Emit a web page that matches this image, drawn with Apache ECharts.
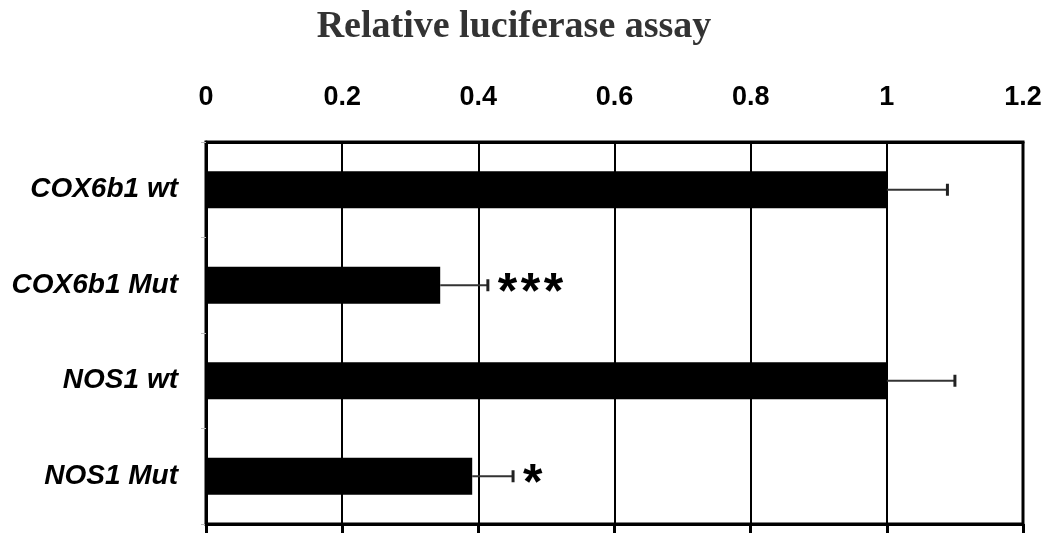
<!DOCTYPE html>
<html>
<head>
<meta charset="utf-8">
<script src="https://cdn.jsdelivr.net/npm/echarts@6/dist/echarts.min.js"></script>
<style>html,body{margin:0;padding:0;background:#fff;}#chart{width:1050px;height:543px;}</style>
</head>
<body>
<div id="chart"></div>
<script>
const categories = ['COX6b1 wt', 'COX6b1 Mut', 'NOS1 wt', 'NOS1 Mut'];
const values = [1.0, 0.344, 1.0, 0.391];
const errors = [0.089, 0.07, 0.10, 0.06];
const significance = ['', '***', '', '*'];
const xMin = 0, xMax = 1.2, xInterval = 0.2;

const errData = categories.map((c, i) => [i, values[i], values[i] + errors[i], significance[i]]);

const chart = echarts.init(document.getElementById('chart'));
chart.setOption({
  animation: false,
  backgroundColor: '#fff',
  title: {
    text: 'Relative luciferase assay',
    left: 509, top: 3, textAlign: 'center',
    textStyle: { fontFamily: 'Liberation Serif', fontWeight: 'bold', fontSize: 38, color: '#333' }
  },
  grid: { left: 206, right: 27, top: 142, bottom: 19, show: true, borderColor: '#000', borderWidth: 3, backgroundColor: 'transparent' },
  xAxis: [
    {
      type: 'value', position: 'top', min: xMin, max: xMax, interval: xInterval,
      axisLine: { show: true, lineStyle: { color: '#000', width: 3 } },
      axisTick: { show: false },
      axisLabel: { color: '#000', fontFamily: 'Arial, Liberation Sans', fontWeight: 'bold', fontSize: 27, margin: 31 },
      splitLine: { show: true, lineStyle: { color: '#000', width: 2 } }
    },
    {
      type: 'value', position: 'bottom', min: xMin, max: xMax, interval: xInterval,
      axisLine: { show: true, lineStyle: { color: '#000', width: 3 } },
      axisTick: { show: true, inside: false, length: 9, lineStyle: { color: '#000', width: 3 } },
      axisLabel: { show: false },
      splitLine: { show: false }
    }
  ],
  yAxis: {
    type: 'category', data: categories, inverse: true,
    axisLine: { show: true, lineStyle: { color: '#000', width: 3 } },
    axisTick: { show: true, length: 5, lineStyle: { color: '#bbb', width: 1 } },
    axisLabel: { color: '#000', fontFamily: 'Arial, Liberation Sans', fontWeight: 'bold', fontStyle: 'italic', fontSize: 28, margin: 28 },
    splitLine: { show: false }
  },
  series: [
    {
      type: 'bar', data: values, xAxisIndex: 0, barWidth: 37,
      itemStyle: { color: '#000' }
    },
    {
      type: 'custom', xAxisIndex: 0, data: errData, z: 5,
      encode: { x: [1, 2], y: 0 },
      renderItem: function (params, api) {
        const y = api.value(0);
        const p0 = api.coord([api.value(1), y]);
        const p1 = api.coord([api.value(2), y]);
        const star = errData[params.dataIndex][3];
        const children = [
          { type: 'line', shape: { x1: p0[0], y1: p0[1], x2: p1[0], y2: p1[1] }, style: { stroke: '#333', lineWidth: 2 } },
          { type: 'line', shape: { x1: p1[0], y1: p1[1] - 6, x2: p1[0], y2: p1[1] + 6 }, style: { stroke: '#222', lineWidth: 3 } }
        ];
        for (let k = 0; k < star.length; k++) {
          children.push({
            type: 'text', x: p1[0] + 10 + k * 23, y: p1[1] + 9,
            style: { text: star[k], fill: '#000', font: 'bold 50px Arial, Liberation Sans', textAlign: 'left', textVerticalAlign: 'middle' }
          });
        }
        return { type: 'group', children: children };
      }
    }
  ]
});
</script>
</body>
</html>
